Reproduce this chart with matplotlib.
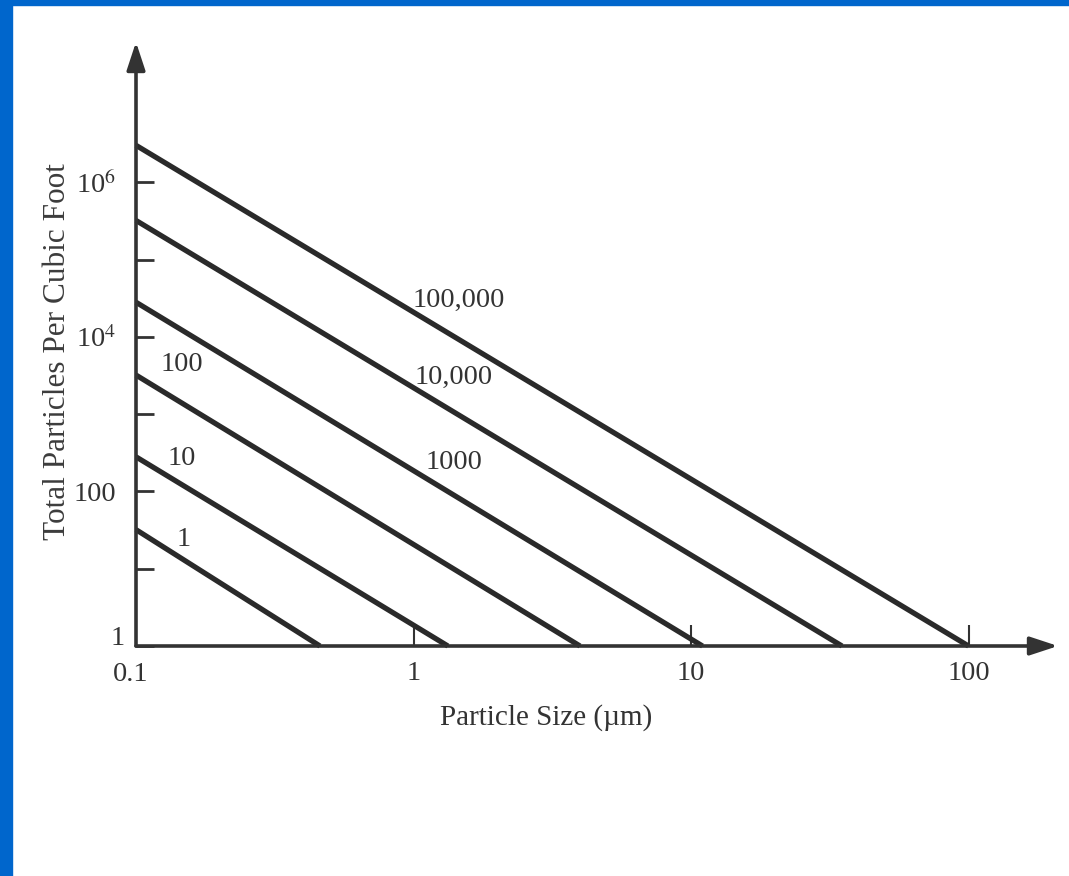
import matplotlib.pyplot as plt
from matplotlib.patches import Rectangle

## data
classes = ['1', '10', '100', '1000', '10,000', '100,000']
count_at_min_size = [32, 280, 3200, 28000, 320000, 3.0e6]   # particles at 0.1 um
size_at_one_count = [0.46, 1.33, 3.98, 11.0, 35, 100]       # size where count falls to 1
x_ticks = [1, 10, 100]
x_tick_labels = ['1', '10', '100']
y_ticks = [1, 10, 100, 1e3, 1e4, 1e5, 1e6]
y_tick_labels = ['', '', '100', '', '10$^4$', '', '10$^6$']

plt.rcParams['font.family'] = ['Liberation Serif', 'DejaVu Serif']
plt.rcParams['mathtext.fontset'] = 'stix'

ink = '#333333'
W, H = 1069, 876
fig = plt.figure(figsize=(W / 100, H / 100), dpi=100, facecolor='white')

# blue slide border (left and top)
fig.patches.append(Rectangle((0, 0), 12 / W, 1, transform=fig.transFigure,
                             color='#0066CC', zorder=0))
fig.patches.append(Rectangle((0, 1 - 5 / H), 1, 5 / H, transform=fig.transFigure,
                             color='#0066CC', zorder=0))

x0, y0, x1, y1 = 136, 646, 1058, 42
ax = fig.add_axes([x0 / W, (H - y0) / H, (x1 - x0) / W, (y0 - y1) / H])
ax.set_xscale('log')
ax.set_yscale('log')
ax.set_xlim(0.1, 10 ** ((x1 - x0) / 277.5 - 1))
ax.set_ylim(1, 10 ** ((y0 - y1) / 77.3))
ax.patch.set_alpha(0)
for s in ax.spines.values():
    s.set_visible(False)

# axes with arrow heads
arrow = dict(arrowstyle='-|>,head_length=0.85,head_width=0.28', mutation_scale=20,
             lw=2.6, color=ink, shrinkA=0, shrinkB=0)
ax.annotate('', xy=(1, 0), xytext=(0, 0), xycoords='axes fraction', arrowprops=arrow)
ax.annotate('', xy=(0, 1), xytext=(0, 0), xycoords='axes fraction', arrowprops=arrow)

# class lines
for lab, n0, d1 in zip(classes, count_at_min_size, size_at_one_count):
    ax.plot([0.1, d1], [n0, 1], color='#2a2a2a', lw=3.8, solid_capstyle='butt', clip_on=False)

# line labels
font = dict(fontsize=20.5, color=ink, ha='center', va='center')
ax.text(1.46, 29500, '100,000', **font)
ax.text(1.40, 3020, '10,000', **font)
ax.text(1.40, 238, '1000', **font)
ax.text(0.146, 4340, '100', **font)
ax.text(0.146, 269, '10', **font)
ax.text(0.148, 23.8, '1', **font)

# ticks
ax.minorticks_off()
ax.set_xticks(x_ticks)
ax.set_xticklabels(x_tick_labels)
ax.set_yticks(y_ticks)
ax.set_yticklabels(y_tick_labels)
ax.tick_params(axis='x', direction='in', length=15, width=1.5, color=ink,
               labelsize=20.5, labelcolor=ink, pad=11)
ax.tick_params(axis='y', direction='in', length=13, width=2, color=ink,
               labelsize=20.5, labelcolor=ink, pad=14)
ax.tick_params(which='minor', length=0)
ax.text(-0.012, 0.012, '1', transform=ax.transAxes, fontsize=20.5, color=ink,
        ha='right', va='center')
ax.text(-0.006, -0.048, '0.1', transform=ax.transAxes, fontsize=20.5, color=ink,
        ha='center', va='center')

fig.text(546 / W, 1 - 718 / H, 'Particle Size (µm)', fontsize=21, color=ink,
         ha='center', va='center')
fig.text(58 / W, 1 - 352 / H, 'Total Particles Per Cubic Foot', fontsize=22.5,
         color='#3c3c3c', rotation=90, ha='center', va='center')

fig.savefig('out.png', dpi=100, facecolor='white')
